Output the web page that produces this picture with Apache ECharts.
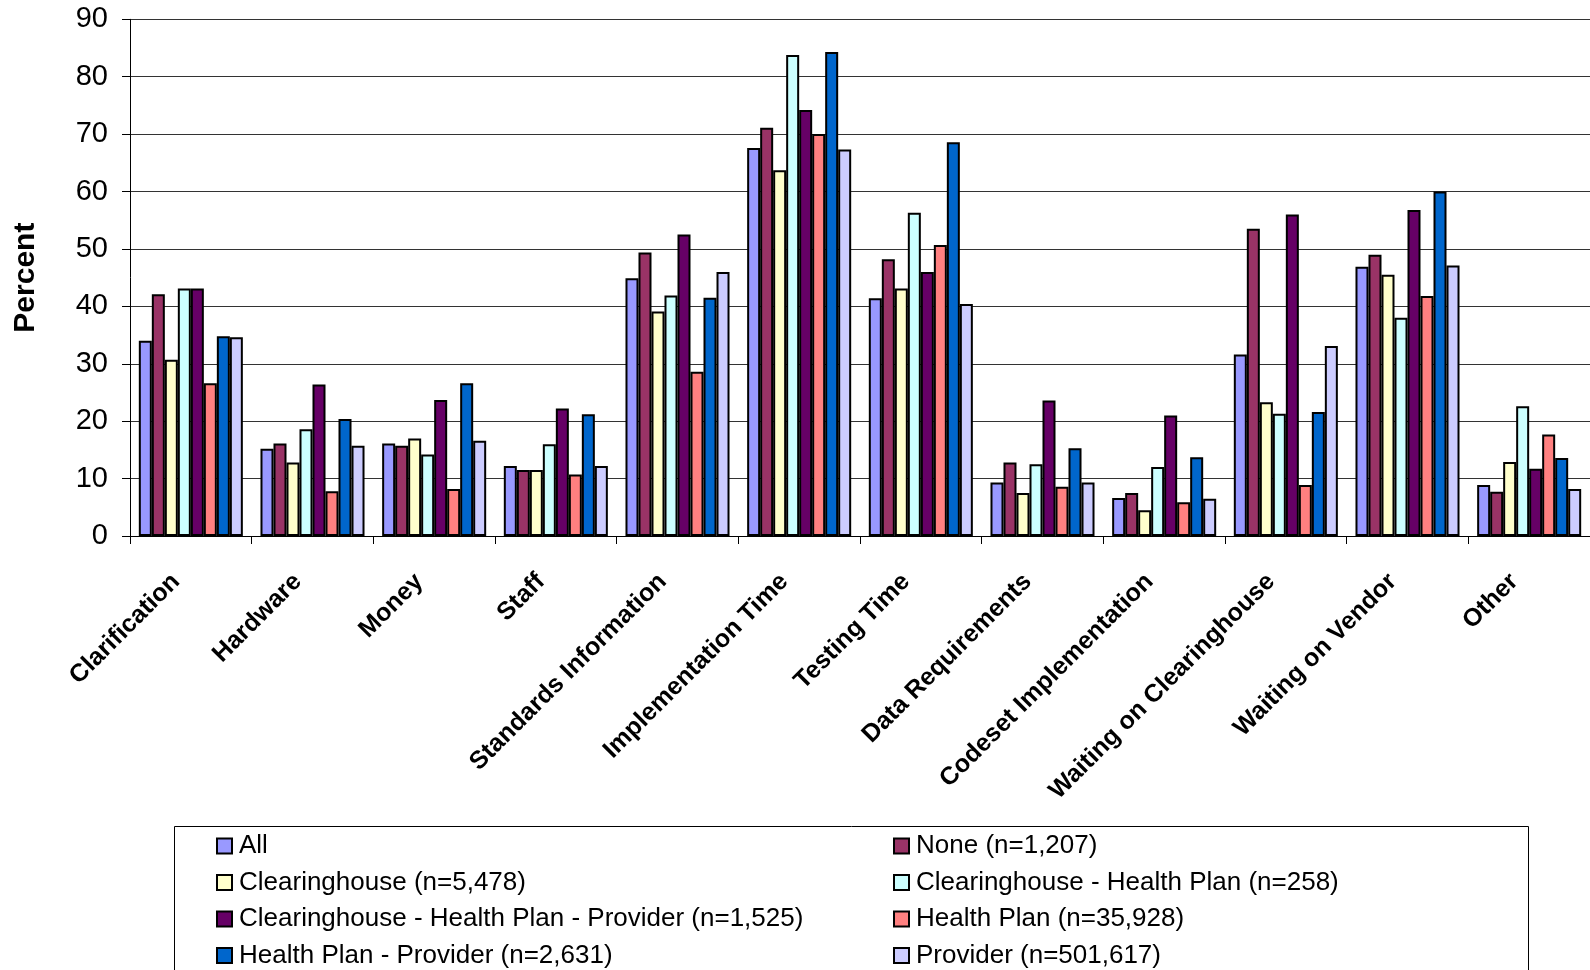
<!DOCTYPE html>
<html>
<head>
<meta charset="utf-8">
<title>Percent by issue and connection type</title>
<script src="https://cdn.jsdelivr.net/npm/echarts@6/dist/echarts.min.js"></script>
<style>
  html, body { margin: 0; padding: 0; background: #fff; }
  #chart { width: 1590px; height: 970px; }
</style>
</head>
<body>
<div id="chart"></div>
<script>
// Issue categories along the x axis
const categories = [
  'Clarification', 'Hardware', 'Money', 'Staff', 'Standards Information',
  'Implementation Time', 'Testing Time', 'Data Requirements',
  'Codeset Implementation', 'Waiting on Clearinghouse', 'Waiting on Vendor', 'Other'
];

// Percent values per group, one entry per category
const allValues      = [34.0, 15.2, 16.1, 12.2, 44.9, 67.6, 41.4,  9.3,  6.6, 31.6, 46.9,  8.9];
const noneValues     = [42.1, 16.1, 15.7, 11.5, 49.4, 71.1, 48.2, 12.8,  7.5, 53.5, 49.0,  7.7];
const chValues       = [30.7, 12.8, 17.0, 11.5, 39.1, 63.7, 43.1,  7.5,  4.5, 23.3, 45.5, 12.9];
const chHpValues     = [43.1, 18.6, 14.2, 16.0, 41.9, 83.8, 56.3, 12.5, 12.0, 21.3, 38.0, 22.6];
const chHpProvValues = [43.1, 26.4, 23.7, 22.2, 52.5, 74.2, 46.0, 23.6, 21.0, 56.0, 56.8, 11.7];
const hpValues       = [26.6,  7.8,  8.2, 10.7, 28.6, 70.0, 50.7,  8.6,  5.9,  8.9, 41.8, 17.7];
const hpProvValues   = [34.8, 20.4, 26.6, 21.2, 41.5, 84.3, 68.6, 15.3, 13.7, 21.6, 60.0, 13.6];
const provValues     = [34.6, 15.7, 16.6, 12.2, 46.0, 67.3, 40.4,  9.3,  6.5, 33.1, 47.1,  8.2];

const seriesNames = [
  'All',
  'None (n=1,207)',
  'Clearinghouse (n=5,478)',
  'Clearinghouse - Health Plan (n=258)',
  'Clearinghouse - Health Plan - Provider (n=1,525)',
  'Health Plan (n=35,928)',
  'Health Plan - Provider (n=2,631)',
  'Provider (n=501,617)'
];
const seriesValues = [allValues, noneValues, chValues, chHpValues, chHpProvValues, hpValues, hpProvValues, provValues];
const seriesColors = ['#9999FF', '#993366', '#FFFFCC', '#CCFFFF', '#660066', '#FF8080', '#0066CC', '#CCCCFF'];

const yTicks = { min: 0, max: 90, interval: 10 };

const FONT = '"Liberation Sans", Arial, sans-serif';

const chart = echarts.init(document.getElementById('chart'), null, { renderer: 'canvas' });

const series = seriesNames.map((name, i) => ({
  name: name,
  type: 'bar',
  data: seriesValues[i],
  barGap: '0%',
  barCategoryGap: '14.5%',
  itemStyle: { color: seriesColors[i], borderColor: '#000', borderWidth: 2 },
  emphasis: { disabled: true }
}));

const legendText = { fontFamily: FONT, fontSize: 26, color: '#000', lineHeight: 26, padding: [0, 0, 0, 2] };
const legendCommon = {
  orient: 'vertical',
  padding: 0,
  itemWidth: 15,
  itemHeight: 15,
  itemGap: 10.5,
  icon: 'rect',
  selectedMode: false,
  textStyle: legendText,
  top: 833,
  height: 200
};

chart.setOption({
  animation: false,
  backgroundColor: '#fff',
  grid: { left: 130, top: 19.3, width: 1467, height: 516.7, containLabel: false },
  xAxis: {
    type: 'category',
    data: categories,
    axisLine: { lineStyle: { color: '#000', width: 1 } },
    axisTick: { show: true, length: 8, lineStyle: { color: '#000' } },
    axisLabel: {
      rotate: 45,
      interval: 0,
      margin: 27,
      padding: [0, 21, 0, 0],
      fontFamily: FONT,
      fontSize: 25,
      fontWeight: 'bold',
      color: '#000'
    }
  },
  yAxis: {
    type: 'value',
    min: yTicks.min,
    max: yTicks.max,
    interval: yTicks.interval,
    name: 'Percent',
    nameLocation: 'middle',
    nameGap: 89,
    nameTextStyle: { fontFamily: FONT, fontSize: 30, fontWeight: 'bold', color: '#000' },
    axisLine: { show: true, lineStyle: { color: '#000', width: 1 } },
    axisTick: { show: true, length: 8, lineStyle: { color: '#000' } },
    axisLabel: { margin: 22, fontFamily: FONT, fontSize: 29, color: '#000' },
    splitLine: { show: true, lineStyle: { color: '#333', width: 1 } }
  },
  legend: [
    Object.assign({}, legendCommon, { left: 216, data: [seriesNames[0], seriesNames[2], seriesNames[4], seriesNames[6]] }),
    Object.assign({}, legendCommon, { left: 893, data: [seriesNames[1], seriesNames[3], seriesNames[5], seriesNames[7]] })
  ],
  graphic: [{
    type: 'rect',
    shape: { x: 174.5, y: 826.5, width: 1354, height: 200 },
    style: { fill: 'none', stroke: '#000', lineWidth: 1 },
    silent: true,
    z: -1
  }],
  series: series
});
</script>
</body>
</html>
